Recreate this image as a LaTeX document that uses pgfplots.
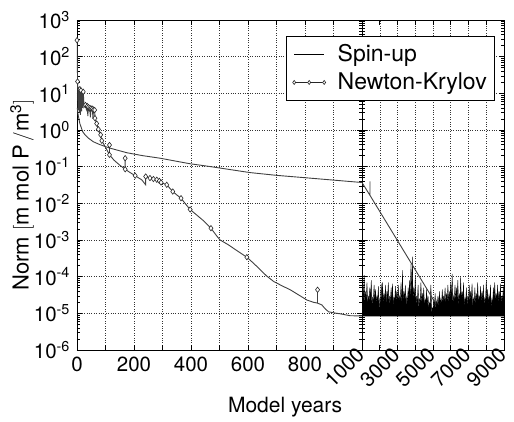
\documentclass[border=0pt]{standalone}
\usepackage{fontspec}
\setmainfont{TeX Gyre Heros}
\usepackage{pgfplots}
\pgfplotsset{compat=1.18}
\newcommand{\bigf}{\fontsize{20.5pt}{24pt}\selectfont}
\pgfplotsset{
 mypanel/.style={
  scale only axis, height=330pt, ymin=1e-6, ymax=1e3,
  ytickten={-6,...,3},
  grid=major, grid style={dotted, black!80, line width=0.5pt},
  axis line style={line width=0.8pt}, tick style={black, line width=0.6pt},
  major tick length=5pt, minor tick length=3pt, tick align=inside,
  tick label style={font=\bigf},
 }
}
\begin{document}
\bigf
\begin{tikzpicture}[x=1pt,y=1pt]
\path[use as bounding box] (-77,-71) rectangle (437,350);
\begin{axis}[ymode=log, mypanel, at={(0pt,0pt)}, anchor=south west, width=285pt,
  xmin=0, xmax=1000, xtick={0,100,...,1000},
  xticklabels={0,,200,,400,,600,,800,,},
  yticklabels={10\textsuperscript{-6},10\textsuperscript{-5},10\textsuperscript{-4},10\textsuperscript{-3},10\textsuperscript{-2},10\textsuperscript{-1},10\textsuperscript{0},10\textsuperscript{1},10\textsuperscript{2},10\textsuperscript{3}},
  xlabel={Model years},
  xlabel style={at={(axis description cs:0.73,0)}, anchor=base, yshift=-62pt, font=\fontsize{21pt}{25pt}\selectfont},
  ylabel={Norm $[\mathrm{m\ mol\ P\,/m^3}]$},
  ylabel style={at={(axis description cs:-0.193,0.47)}, anchor=center, font=\fontsize{22pt}{26pt}\selectfont},
]
% Spin-up
\addplot[black!75, line width=0.9pt] coordinates {
(1,4) (4,2.6) (10,1.5) (20,0.9) (28,0.74) (40,0.6) (57,0.48) (80,0.4) (116,0.32)
(175,0.24) (230,0.2) (292,0.17) (350,0.14) (397,0.12) (455,0.104) (530,0.085)
(607,0.069) (700,0.058) (800,0.05) (900,0.043) (1000,0.037)};
% Newton-Krylov
\addplot[black!75, line width=0.9pt] coordinates {
(0,280) (2,21) (4,3.5) (6,15) (8,3) (10,13) (12,2.6) (14,12) (16,3.2) (18,11)
(20,4) (22,11) (25,4.2) (30,4.8) (33,3.6) (36,4.5) (38,2.4) (40,4.2) (43,3.5)
(45,4.0) (47,2.2) (49,3.9) (52,3.4) (54,3.8) (56,2.0) (58,3.6) (60,3.3) (62,3.5)
(63,2.1) (69,1.5) (75,1.05) (83,0.74) (87,0.51) (100,0.34) (114,0.21) (114,0.39)
(114,0.21) (130,0.15) (150,0.11) (169,0.085) (169,0.17) (169,0.085) (185,0.07)
(204,0.057) (215,0.05) (227,0.044) (241,0.032) (241,0.054) (256,0.049) (268,0.046)
(280,0.044) (289,0.041) (295,0.037) (315,0.032) (336,0.021) (350,0.017) (365,0.0138)
(380,0.0098) (397,0.0068) (420,0.0048) (445,0.0033) (470,0.0021) (490,0.0013)
(502,0.001) (530,0.00075) (560,0.00052) (596,0.00034) (620,0.00023) (643,0.000155)
(665,0.000105) (690,0.000074) (720,0.000056) (748,0.000044) (780,0.000031)
(807,0.000023) (830,0.000020) (844,0.000019) (844,0.000044) (844,0.000019)
(859,0.000017) (872,0.000013) (883,0.000011) (905,0.0000102) (924,0.0000097)
(959,0.0000086) (1000,0.0000085)};
\addplot[only marks, mark=diamond*, mark size=2.7pt, mark options={fill=white, draw=black!85, line width=0.6pt}] coordinates {
(0,280) (2,21) (10,13) (14,12) (22,11) (30,4.8) (36,4.5) (40,4.2) (45,4.0) (49,3.9)
(54,3.8) (58,3.6) (62,3.5) (63,2.1) (69,1.5) (75,1.05) (83,0.74) (87,0.51) (114,0.39)
(114,0.21) (169,0.17) (169,0.085) (204,0.057) (241,0.054) (256,0.049) (268,0.046)
(280,0.044) (289,0.041) (295,0.037) (315,0.032) (336,0.021) (365,0.0138) (397,0.0068)
(470,0.0021) (596,0.00034) (844,0.000044)};
\end{axis}
\begin{axis}[ymode=log, mypanel, at={(285pt,0pt)}, anchor=south west, width=142pt,
  xmin=1000, xmax=9000, xtick={1000,2000,...,9000},
  xticklabels={1000,,3000,,5000,,7000,,9000},
  xticklabel style={rotate=45, anchor=east, inner sep=2pt},
  yticklabels={},
  legend style={at={(0.937,0.9515)}, anchor=north east, draw=black, line width=0.6pt,
    fill=white, inner xsep=6pt, inner ysep=6pt, row sep=4pt},
  legend cell align=left,
  legend image code/.code={\draw[#1] (0pt,0pt) -- (30pt,0pt);},
]
\addlegendimage{black, line width=0.6pt}
\addlegendentry{\fontsize{23pt}{27pt}\selectfont\hspace{10pt}Spin-up}
\addlegendimage{legend image code/.code={\draw[black!85, line width=0.6pt, mark=diamond*, mark size=2pt, mark options={fill=white}] plot coordinates {(0pt,0pt) (15pt,0pt) (30pt,0pt)};}}
\addlegendentry{\fontsize{23pt}{27pt}\selectfont\hspace{10pt}Newton-Krylov}
% noise after 1000 years (Newton-Krylov), filled down to its floor
\addplot[fill=black, draw=black, line width=0.3pt, forget plot] coordinates {
(1000,8.3e-6) (1000,2e-5) (1040,6e-5) (1080,2e-5) (1120,1.1e-4) (1160,1.8e-5) (1200,4e-5)
(1240,2.2e-5) (1280,7e-5) (1320,1.6e-5) (1360,3e-5) (1400,2e-5) (1440,5e-5)
(1480,2.4e-5) (1520,8e-5) (1560,1.4e-5) (1600,2.8e-5) (1640,2e-5) (1680,6e-5)
(1720,2.2e-5) (1760,4.5e-5) (1800,1.7e-5) (1840,3e-5) (1880,2.1e-5) (1920,5.5e-5)
(1960,1.2e-5) (2000,2.5e-5) (2040,1.9e-5) (2080,6.5e-5) (2120,2.3e-5) (2160,7e-5)
(2200,1.8e-5) (2240,3.5e-5) (2280,2.1e-5) (2320,6e-5) (2360,1.6e-5) (2400,4e-5)
(2440,2.4e-5) (2480,7e-5) (2520,1.5e-5) (2560,3e-5) (2600,2e-5) (2640,5e-5)
(2680,2.2e-5) (2720,6.5e-5) (2760,1.4e-5) (2800,2.8e-5) (2840,1.9e-5) (2880,5.5e-5)
(2920,2.1e-5) (2960,4e-5) (3000,1.7e-5) (3040,6e-5) (3080,2e-5) (3120,3e-5)
(3160,2.2e-5) (3200,7e-5) (3240,1.1e-5) (3280,1.5e-4) (3320,1.8e-5) (3360,4e-5)
(3400,2.3e-5) (3440,6e-5) (3480,1.5e-5) (3520,2.8e-5) (3560,2e-5) (3600,5e-5)
(3640,2.4e-5) (3680,8e-5) (3720,1.9e-5) (3760,2.2e-4) (3800,2.5e-5) (3840,3.5e-4)
(3880,1.8e-5) (3920,5e-5) (3960,2.1e-5) (4000,1e-4) (4040,1.5e-5) (4080,3e-5)
(4120,2e-5) (4160,6e-5) (4200,1.3e-5) (4240,2.5e-5) (4280,2.2e-5) (4320,7e-5)
(4360,1.6e-5) (4400,3.5e-5) (4440,2e-5) (4480,5e-5) (4520,1.4e-5) (4560,2.4e-5)
(4600,1.9e-5) (4640,4.5e-5) (4680,1.6e-5) (4720,3e-5) (4760,1.3e-5) (4800,2e-5)
(4840,1.6e-5) (4880,6e-5) (4920,1.5e-5) (4940,8.3e-6) (4960,1.4e-5) (5000,1.2e-5) (5040,2.5e-5)
(5080,1.5e-5) (5120,3.5e-5) (5160,1.3e-5) (5200,2.2e-5) (5240,1.6e-5) (5280,3e-5)
(5320,1.4e-5) (5360,4e-5) (5400,1.7e-5) (5440,2.5e-5) (5480,1.5e-5) (5520,4.5e-5)
(5560,1.8e-5) (5600,3e-5) (5640,2e-5) (5680,5e-5) (5720,1.7e-5) (5760,3.5e-5)
(5800,2.1e-5) (5840,6e-5) (5880,1.8e-5) (5920,4e-5) (5960,2.2e-5) (6000,7e-5)
(6040,2e-5) (6080,1.2e-4) (6120,1.6e-5) (6160,3e-5) (6200,2.2e-5) (6240,6e-5)
(6280,1.9e-5) (6320,5e-5) (6360,2.3e-5) (6400,8e-5) (6440,1.5e-5) (6480,3.5e-5)
(6520,2.1e-5) (6560,1e-4) (6600,1.8e-5) (6640,4e-5) (6680,2.2e-5) (6720,7e-5)
(6760,1.4e-5) (6800,2.6e-5) (6840,2e-5) (6880,5e-5) (6920,1.6e-5) (6960,3e-5)
(7000,2.1e-5) (7040,6e-5) (7080,1.8e-5) (7120,4e-5) (7160,2.3e-5) (7200,6.5e-5)
(7240,1.4e-5) (7280,2.6e-5) (7320,2e-5) (7360,5e-5) (7400,1.7e-5) (7440,3.5e-5)
(7480,2.2e-5) (7520,7e-5) (7560,1.6e-5) (7600,3e-5) (7640,2.1e-5) (7680,5.5e-5)
(7720,1.8e-5) (7760,4e-5) (7800,2.2e-5) (7840,6e-5) (7880,1.5e-5) (7920,2.6e-5)
(7960,2e-5) (8000,8e-5) (8040,1.9e-5) (8080,4.5e-5) (8120,1.6e-5) (8160,3e-5)
(8200,2.2e-5) (8240,6e-5) (8280,1.3e-5) (8320,2.4e-5) (8360,1.9e-5) (8400,5e-5)
(8440,2.3e-5) (8480,7e-5) (8520,1.7e-5) (8560,3.5e-5) (8600,2.1e-5) (8640,6e-5)
(8680,1.8e-5) (8720,4e-5) (8760,2.2e-5) (8800,6.5e-5) (8840,1.6e-5) (8880,3e-5)
(8920,2e-5) (8960,5.5e-5) (9000,2e-5) (9000,8.3e-6)};
\addplot[black!75, line width=0.9pt, forget plot] coordinates {
(1000,0.037) (1450,0.0165) (1450,0.04) (1450,0.0165) (4930,2.8e-5) (5050,2.2e-5)};
\end{axis}
\end{tikzpicture}
\end{document}
